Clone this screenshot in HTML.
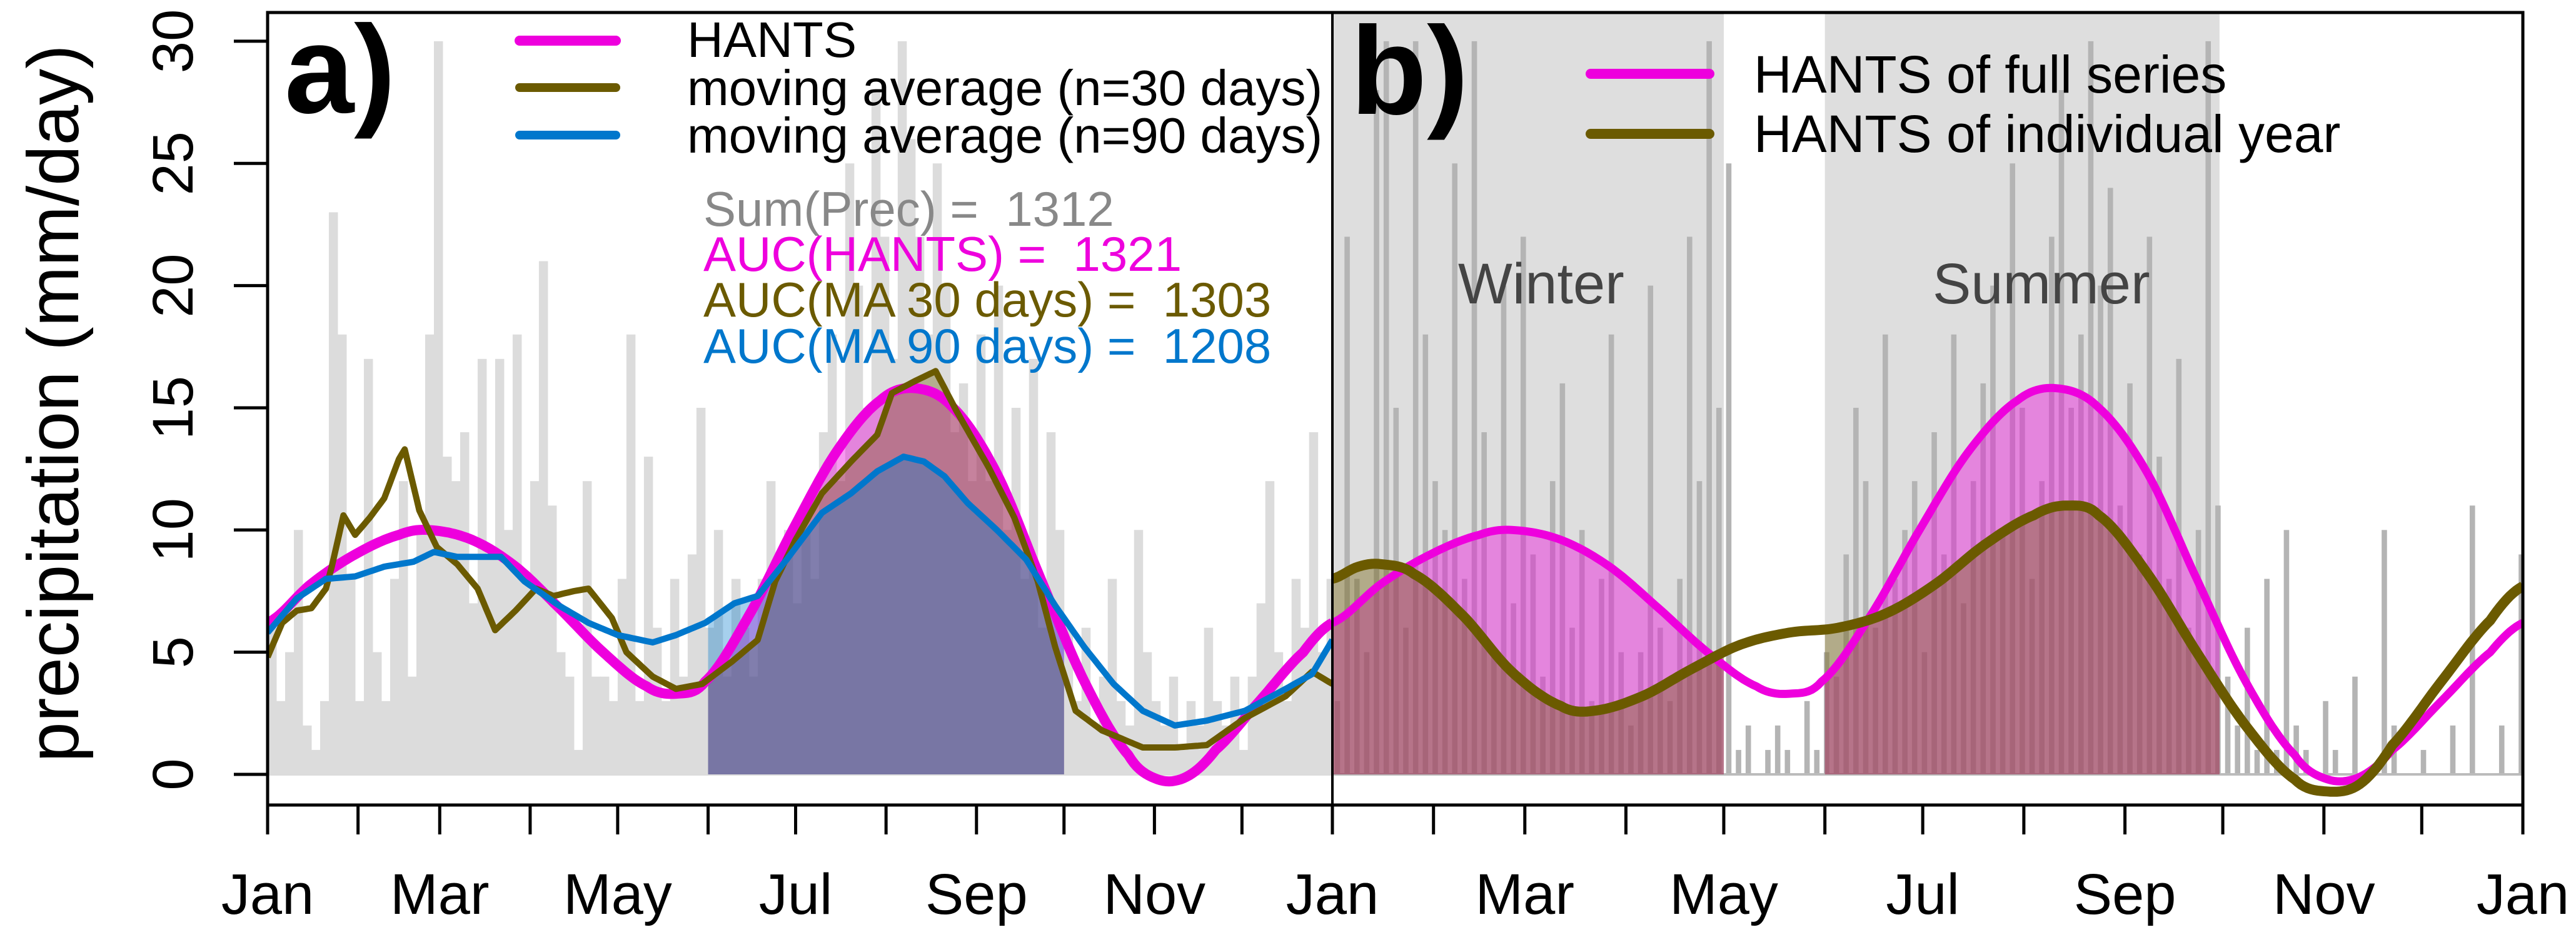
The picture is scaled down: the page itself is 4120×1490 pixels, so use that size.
<!DOCTYPE html>
<html><head><meta charset="utf-8"><style>
html,body{margin:0;padding:0;background:#fff}
svg{display:block;font-family:"Liberation Sans",sans-serif}
</style></head><body>
<svg id="chart" width="4120" height="1490" viewBox="0 0 4120 1490" xmlns="http://www.w3.org/2000/svg">
<defs>
<clipPath id="clipA"><rect x="428" y="20" width="1703" height="1267"/></clipPath>
<clipPath id="clipB"><rect x="2131" y="20" width="1904" height="1267"/></clipPath>
</defs>
<g id="gA" clip-path="url(#clipA)"></g>
<g id="gB" clip-path="url(#clipB)"></g>
<g id="axes"></g>
<text x="85" y="645" font-size="116" text-anchor="middle" dominant-baseline="central" transform="rotate(-90 85 645)">precipitation (mm/day)</text>
<text x="455" y="180" font-size="200" font-weight="bold">a)</text>
<text x="2160" y="182" font-size="200" font-weight="bold">b)</text>
<g>
<line x1="831" y1="65" x2="985" y2="65" stroke="#ee00dd" stroke-width="16" stroke-linecap="round"/>
<line x1="831" y1="140" x2="985" y2="140" stroke="#6b5a00" stroke-width="14" stroke-linecap="round"/>
<line x1="831" y1="216" x2="985" y2="216" stroke="#0077cc" stroke-width="14" stroke-linecap="round"/>
<text x="1099" y="91" font-size="80">HANTS</text>
<text x="1099" y="168" font-size="80">moving average (n=30 days)</text>
<text x="1099" y="244" font-size="80">moving average (n=90 days)</text>
</g>
<g font-size="78">
<text x="1125" y="361" fill="#888888">Sum(Prec) =&#160;&#160;1312</text>
<text x="1125" y="433" fill="#ee00dd">AUC(HANTS) =&#160;&#160;1321</text>
<text x="1125" y="506" fill="#6b5a00">AUC(MA 30 days) =&#160;&#160;1303</text>
<text x="1125" y="580" fill="#0077cc">AUC(MA 90 days) =&#160;&#160;1208</text>
</g>
<g>
<line x1="2544" y1="118" x2="2734" y2="118" stroke="#ee00dd" stroke-width="16" stroke-linecap="round"/>
<line x1="2544" y1="214" x2="2734" y2="214" stroke="#6b5a00" stroke-width="16" stroke-linecap="round"/>
<text x="2805" y="148" font-size="84">HANTS of full series</text>
<text x="2805" y="243" font-size="84">HANTS of individual year</text>
</g>
<text x="2332" y="485" font-size="92" fill="#444">Winter</text>
<text x="3091" y="485" font-size="92" fill="#444">Summer</text>
</svg>
<script>
const monthLabels = ["Jan","Feb","Mar","Apr","May","Jun","Jul","Aug","Sep","Oct","Nov","Dec","Jan"];
const monthStarts = [0,31,59,90,120,151,181,212,243,273,304,334,365];
const yTicks = [0,5,10,15,20,25,30];
// 3-day binned daily precipitation (mm/day)
const precipA = [6,3,5,10,2,1,3,23,18,8,3, 17,5,3,8,12,4,10,18,30,13, 12,14,7,17,9,17,10,18,8,12, 21,11,5,4,1,12,4,4,3,8, 18,3,13,6,3,8,4,9,15,6, 10,4,8,6,4,8,12,9,10,7, 10,8,14,18,12,25,20,15,28,22,17, 30,26,22,18,25,20,14,16,12,18, 12,20,10,15,8,17,6,14,10,6, 3,6,2,4,8,3,2,10,5,3, 2,4,1,3,2,6,3,2,4,1, 4,7,12,5,3,8,6,14,5,8];
const precipB = [3,22,8,5,28,30,15,6,30,18,12, 10,25,8,30,14,5,20,7,22,9, 4,12,16,6,10,3,8,18,5,2, 5,20,6,3,8,22,12,30,15,25, 1,2,0,1,2,1,0,3,1,5, 4,9,15,12,6,18,8,10,12,5, 14,9,18,7,12,16,20,10,25,15,8, 12,22,28,15,18,30,20,24,11,16, 9,22,13,8,17,6,10,30,11,4, 2,6,1,8,1,10,2,1,0,3, 1,0,4,0,0,10,2,0,0,1, 0,0,2,0,11,0,0,2,0,9];
const hantsDays = [0,15,30,45,55,70,85,100,115,130,140,150,165,180,195,210,222,235,250,265,280,295,305,315,325,340,355,365];
const hantsVals = [6.2,7.8,9.0,9.8,10.0,9.6,8.5,6.8,5.0,3.6,3.3,3.8,6.5,10,13.2,15.3,15.8,15.0,12.3,8.0,3.8,0.8,-0.2,-0.1,1.0,3.0,5.0,6.2];
const yearDays = [0,8,15,25,40,55,70,80,95,110,125,140,155,170,185,200,215,225,235,250,265,280,295,305,315,325,340,355,365];
const yearVals = [8.0,8.5,8.6,8.2,6.5,4.2,2.8,2.6,3.2,4.3,5.3,5.8,6.0,6.6,7.8,9.4,10.6,11.0,10.6,8.2,5.0,2.0,-0.2,-0.7,-0.4,1.2,3.8,6.3,7.7];
const ma30Days = [0,5,10,15,20,22,26,30,35,40,45,47,52,58,65,72,78,85,92,98,105,110,118,123,132,140,149,159,168,174,181,190,200,209,214,222,229,236,247,256,264,270,277,286,300,311,322,335,349,358,365];
const ma30Vals = [4.8,6.2,6.7,6.8,7.6,8.5,10.6,9.8,10.5,11.3,12.9,13.3,10.8,9.3,8.6,7.6,5.9,6.7,7.6,7.3,7.5,7.6,6.4,5.0,4.0,3.5,3.7,4.6,5.5,7.9,9.6,11.5,12.8,13.9,15.6,16.1,16.5,14.9,12.6,10.5,7.9,5.2,2.6,1.8,1.1,1.1,1.2,2.3,3.2,4.2,3.7];
const ma90Days = [0,10,20,30,40,50,57,65,80,88,100,110,120,132,140,150,160,168,178,190,200,209,218,225,232,240,250,260,270,280,290,300,311,322,335,349,358,365];
const ma90Vals = [5.8,7.2,8.0,8.1,8.5,8.7,9.1,8.9,8.9,7.9,6.9,6.2,5.7,5.4,5.7,6.2,7.0,7.3,8.8,10.7,11.5,12.4,13.0,12.8,12.2,11.1,10.0,8.8,6.9,5.2,3.7,2.6,2.0,2.2,2.6,3.5,4.1,5.5];
const fillA = [151,273];
const winter = [0,120];
const summer = [151,272];

const NS="http://www.w3.org/2000/svg";
const Y0=1238, YS=39.07, TOP=20, BOT=1287;
const A0=428, A1=2131, B0=2131, B1=4035;
const yv = v => Y0 - v*YS;
const xa = d => A0 + d/365*(A1-A0);
const xb = d => B0 + d/365*(B1-B0);
function mk(tag, attrs, parent){const e=document.createElementNS(NS,tag);for(const k in attrs)e.setAttribute(k,attrs[k]);parent.appendChild(e);return e;}
function spline(ds, vs){
  return function(d){
    let i=0; while(i<ds.length-2 && d>ds[i+1]) i++;
    const p0=vs[Math.max(i-1,0)],p1=vs[i],p2=vs[i+1],p3=vs[Math.min(i+2,vs.length-1)];
    const t=(d-ds[i])/(ds[i+1]-ds[i]);
    return 0.5*((2*p1)+(-p0+p2)*t+(2*p0-5*p1+4*p2-p3)*t*t+(-p0+3*p1-3*p2+p3)*t*t*t);
  };
}
function linear(ds, vs){
  return function(d){
    let i=0; while(i<ds.length-2 && d>ds[i+1]) i++;
    const t=(d-ds[i])/(ds[i+1]-ds[i]); return vs[i]+(vs[i+1]-vs[i])*t;
  };
}
function linePath(f, xf, d0, d1, step){
  let s=""; for(let d=d0; d<=d1+1e-9; d+=step){s+=(s?"L":"M")+xf(d).toFixed(1)+","+yv(f(d)).toFixed(1);} return s;
}
function areaPath(f, xf, d0, d1){
  let s="M"+xf(d0).toFixed(1)+","+Y0;
  for(let d=d0; d<=d1+1e-9; d+=0.5) s+="L"+xf(d).toFixed(1)+","+yv(Math.max(f(d),0)).toFixed(1);
  s+="L"+xf(d1).toFixed(1)+","+Y0+"Z"; return s;
}
const hF=spline(hantsDays,hantsVals), yF=spline(yearDays,yearVals);
const m30=linear(ma30Days,ma30Vals), m90=linear(ma90Days,ma90Vals);

// Panel A
const gA=document.getElementById('gA');
precipA.forEach((v,i)=>{
  const r=mk('rect',{x:xa(i*3),y:yv(v),width:xa(3)-xa(0)+0.5,height:Y0-yv(v),fill:'#dcdcdc'},gA);
  
  
});
mk('line',{x1:A0,y1:Y0,x2:A1,y2:Y0,stroke:'#dcdcdc','stroke-width':4},gA);
[[hF,'rgba(238,0,221,0.4)'],[m30,'rgba(107,90,0,0.35)'],[m90,'rgba(0,119,204,0.35)']].forEach(([f,c])=>{
  const p=mk('path',{d:areaPath(f,xa,fillA[0],fillA[1]),fill:c},gA);
  
  
});
let p;
p=mk('path',{d:linePath(hF,xa,0,365,1),fill:'none',stroke:'#ee00dd','stroke-width':16},gA);


p=mk('path',{d:linePath(m30,xa,0,365,1),fill:'none',stroke:'#6b5a00','stroke-width':10,'stroke-linejoin':'round'},gA);


p=mk('path',{d:linePath(m90,xa,0,365,1),fill:'none',stroke:'#0077cc','stroke-width':10,'stroke-linejoin':'round'},gA);



// Panel B
const gB=document.getElementById('gB');
[winter,summer].forEach(s=>{
  const r=mk('rect',{x:xb(s[0]),y:TOP,width:xb(s[1])-xb(s[0]),height:Y0-TOP,fill:'#dedede'},gB);
  
  
});
precipB.forEach((v,i)=>{
  const r=mk('rect',{x:xb(i*3+0.7),y:yv(v),width:(xb(3)-xb(0))*0.55,height:Y0-yv(v),fill:'#b4b4b4'},gB);
  
  
});
mk('line',{x1:B0,y1:Y0,x2:B1,y2:Y0,stroke:'#bbbbbb','stroke-width':4},gB);
[winter,summer].forEach(s=>{
  [[hF,'rgba(238,0,221,0.4)'],[yF,'rgba(107,90,0,0.38)']].forEach(([f,c])=>{
    const a=mk('path',{d:areaPath(f,xb,s[0],s[1]),fill:c},gB);
    
    
  });
});
p=mk('path',{d:linePath(hF,xb,0,365,1),fill:'none',stroke:'#ee00dd','stroke-width':13},gB);


p=mk('path',{d:linePath(yF,xb,0,365,1),fill:'none',stroke:'#6b5a00','stroke-width':16},gB);



// Axes
const ax=document.getElementById('axes');
mk('rect',{x:A0,y:TOP,width:B1-A0,height:BOT-TOP,fill:'none',stroke:'#000','stroke-width':5},ax);
mk('line',{x1:A1,y1:TOP,x2:A1,y2:BOT,stroke:'#000','stroke-width':4},ax);
mk('line',{x1:A0,y1:yv(0),x2:A0,y2:yv(30),stroke:'#000','stroke-width':5},ax);
yTicks.forEach(v=>{
  mk('line',{x1:374,y1:yv(v),x2:A0,y2:yv(v),stroke:'#000','stroke-width':5},ax);
  const t=mk('text',{x:277,y:yv(v),'font-size':92,'text-anchor':'middle','dominant-baseline':'central',transform:`rotate(-90 277 ${yv(v)})`},ax);
  t.textContent=v;
  
  
});
[xa,xb].forEach(xf=>{
  monthStarts.forEach((d,i)=>{
    mk('line',{x1:xf(d),y1:BOT,x2:xf(d),y2:1334,stroke:'#000','stroke-width':5},ax);
    if(i%2===0){
      const t=mk('text',{x:xf(d),y:1461,'font-size':92,'text-anchor':'middle'},ax);
      t.textContent=monthLabels[i];
      
      
    }
  });
});
</script>
</body></html>
